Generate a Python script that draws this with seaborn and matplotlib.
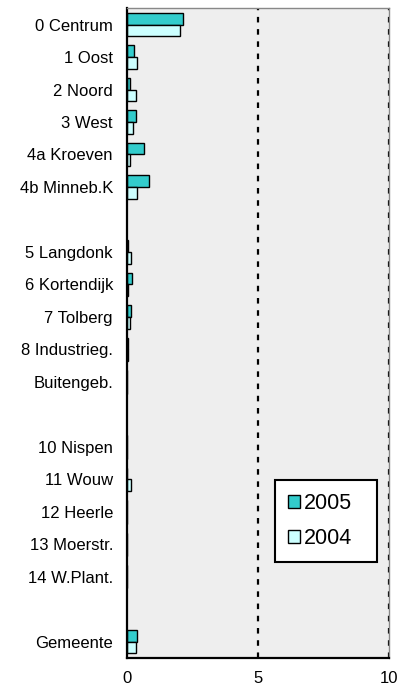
import pandas as pd
import numpy as np
import matplotlib.pyplot as plt
import seaborn as sns

# Chart data
wijken = ['0 Centrum', '1 Oost', '2 Noord', '3 West', '4a Kroeven', '4b Minneb.K', ' ',
          '5 Langdonk', '6 Kortendijk', '7 Tolberg', '8 Industrieg.', 'Buitengeb.', '  ',
          '10 Nispen', '11 Wouw', '12 Heerle', '13 Moerstr.', '14 W.Plant.', '   ', 'Gemeente']
jaren = ['2005', '2004']
waarden_2005 = [2.14, 0.27, 0.11, 0.34, 0.65, 0.84, np.nan,
                0.05, 0.18, 0.15, 0.05, 0.0, np.nan,
                0.0, 0.02, 0.0, 0.0, 0.0, np.nan, 0.39]
waarden_2004 = [2.04, 0.39, 0.34, 0.24, 0.13, 0.39, np.nan,
                0.15, 0.06, 0.12, 0.04, 0.0, np.nan,
                0.0, 0.15, 0.0, 0.0, 0.0, np.nan, 0.34]
x_ticks = [0, 5, 10]

df = pd.DataFrame({
    'wijk': wijken * 2,
    'jaar': ['2005'] * len(wijken) + ['2004'] * len(wijken),
    'waarde': waarden_2005 + waarden_2004,
}).dropna()

sns.set_style('white')
plt.rcParams['font.family'] = ['Liberation Sans', 'DejaVu Sans']
plt.rcParams['text.color'] = 'black'

fig = plt.figure(figsize=(4.04, 6.93), dpi=100)
ax = fig.add_axes([0.314, 0.0505, 0.649, 0.9375])
ax.set_facecolor('#eeeeee')

sns.barplot(data=df, x='waarde', y='wijk', hue='jaar', order=wijken, hue_order=jaren,
            palette={'2005': '#33cccc', '2004': '#ccffff'}, width=0.72, saturation=1,
            edgecolor='black', linewidth=1, ax=ax)

ax.set_xlim(0, 10)
ax.set_ylim(len(wijken) - 0.5, -0.5)
ax.set_xticks(x_ticks)
ax.set_xlabel('')
ax.set_ylabel('')
ax.tick_params(axis='x', length=0, pad=9, labelsize=12, labelcolor='black')
ax.tick_params(axis='y', length=0, pad=10, labelsize=12, labelcolor='black')

for x in x_ticks[1:]:
    ax.axvline(x, color='black', linestyle=(0, (2.5, 3)), linewidth=1.6, zorder=0.5)

ax.spines['left'].set_color('black')
ax.spines['left'].set_linewidth(1.6)
ax.spines['bottom'].set_color('black')
ax.spines['bottom'].set_linewidth(1.6)
ax.spines['top'].set_color('#888888')
ax.spines['right'].set_color('#888888')
ax.spines['right'].set_linewidth(1)
ax.spines['top'].set_linewidth(1)

leg = ax.legend(loc='upper left', bbox_to_anchor=(0.565, 0.274, 0.389, 0.0), mode='expand',
                frameon=True, fancybox=False, edgecolor='black', framealpha=1, fontsize=15.5,
                handlelength=0.55, handleheight=0.55, handletextpad=0.2, labelspacing=0.65,
                borderpad=0.6, borderaxespad=0)
leg.get_frame().set_linewidth(1.5)
for t in leg.get_texts():
    t.set_color('black')

fig.savefig('out.png', dpi=100)
